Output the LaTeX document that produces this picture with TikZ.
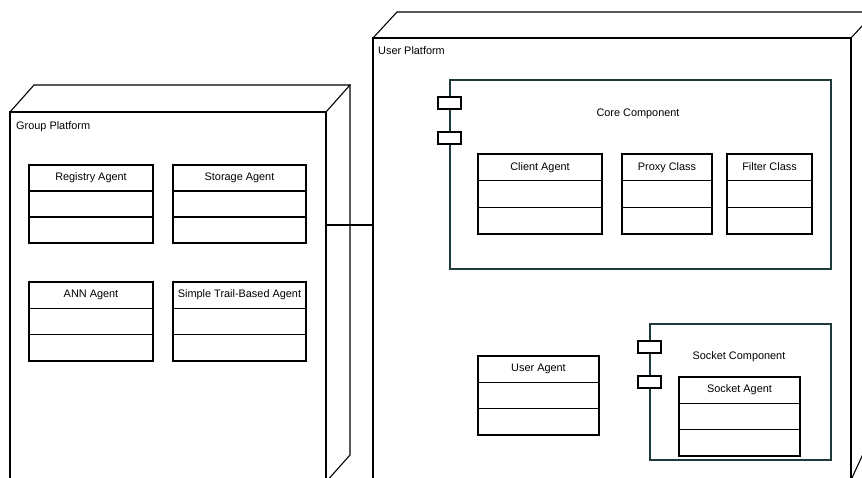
\documentclass[tikz,border=0pt]{standalone}
\usepackage{fontspec}
\setmainfont{Liberation Sans}
\usetikzlibrary{calc}
\definecolor{compline}{HTML}{1E3A3A}
\newcommand\umlclass[6]{%
  \node[clsbox, anchor=north west, minimum width={(#4-#2)*1pt}, minimum height={(#5-#3)*1pt}] (#1) at (#2,#3) {};
  \node[lbl] (#1-t) at ($(#1.north)!1/6!(#1.south)$) {#6};
  \draw[clsline] ($(#1.north west)!1/3!(#1.south west)$) -- ($(#1.north east)!1/3!(#1.south east)$);
  \draw[clsline] ($(#1.north west)!2/3!(#1.south west)$) -- ($(#1.north east)!2/3!(#1.south east)$);
}
\begin{document}
\begin{tikzpicture}[x=1pt,y=-1pt,
  every node/.style={font=\fontsize{10.9}{12}\selectfont},
  clsbox/.style={draw=black, line width=1.1pt, fill=white, inner sep=0pt, outer sep=0pt},
  clsline/.style={draw=black, line width=1.1pt},
  lbl/.style={inner sep=0pt, text=black, text height=7.9pt, text depth=2.3pt},
  platform/.style={draw=black, line width=1.1pt, fill=white, inner sep=0pt, outer sep=0pt, anchor=north west},
  pline/.style={draw=black, line width=1.1pt, line join=miter},
  comp/.style={draw=compline, line width=1.1pt, fill=white, inner sep=0pt, outer sep=0pt, anchor=north west},
  port/.style={draw=black, line width=1.1pt, fill=white, inner sep=0pt, outer sep=0pt, anchor=north west, minimum width=23pt, minimum height=12pt}
]
\useasboundingbox (0,0) rectangle (862,478);
\clip (0,0) rectangle (862,478);
\fill[white] (0,0) rectangle (862,478);

% Group Platform
\node[platform, minimum width=316pt, minimum height=370pt] (gp) at (10,112) {};
\draw[pline] (gp.north west) -- ++(24,-27) coordinate (gpbl) -- ($(gp.north east)+(24,-27)$) coordinate (gpbr) -- (gp.north east);
\draw[pline] (gpbr) -- ++(0,370) -- (gp.south east);
\node[lbl, anchor=west] (gpt) at (16,127) {Group Platform};

% User Platform
\node[platform, minimum width=478pt, minimum height=442pt] (up) at (373,38) {};
\draw[pline] (up.north west) -- ++(24,-26) coordinate (upbl) -- ($(up.north east)+(24,-26)$) coordinate (upbr) -- (up.north east);
\draw[pline] (upbr) -- ++(0,416) -- (up.south east);
\node[lbl, anchor=west] (upt) at (378,52) {User Platform};

% connector
\coordinate (cy) at (0,225);
\draw[pline] (gp.east |- cy) -- (up.west |- cy);

% Group classes
\umlclass{reg}{29}{165}{153}{243}{Registry Agent}
\umlclass{sto}{173}{165}{306}{243}{Storage Agent}
\umlclass{ann}{29}{282}{153}{361}{ANN Agent}
\umlclass{stb}{173}{282}{306}{361}{Simple Trail-Based Agent}

% Core Component
\node[comp, minimum width=381pt, minimum height=189pt] (core) at (450,80) {};
\node[port] (cp1) at (438,97) {};
\node[port] (cp2) at (438,132) {};
\node[lbl] (coret) at (638,114) {Core Component};
\umlclass{cli}{478}{154}{602}{234}{Client Agent}
\umlclass{pro}{622}{154}{712}{234}{Proxy Class}
\umlclass{fil}{727}{154}{812}{234}{Filter Class}

% User Agent
\umlclass{usr}{478}{356}{599}{435}{User Agent}

% Socket Component
\node[comp, minimum width=181pt, minimum height=136pt] (sock) at (650,324) {};
\node[port] (sp1) at (638,341) {};
\node[port] (sp2) at (638,376) {};
\node[lbl] (sockt) at (739,357) {Socket Component};
\umlclass{sag}{679}{377}{800}{456}{Socket Agent}
\end{tikzpicture}
\end{document}
